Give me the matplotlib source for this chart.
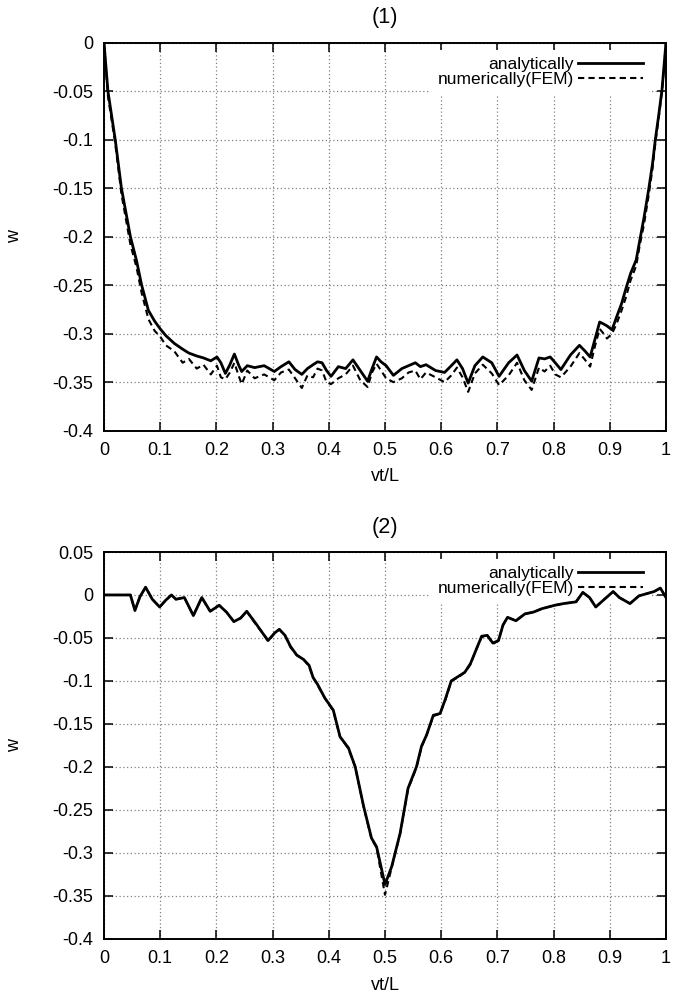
"""Beam deflection under a moving load: analytical vs FEM."""

import matplotlib
matplotlib.use("Agg")
import matplotlib.pyplot as plt

plt.rcParams["font.family"] = ["Liberation Sans", "DejaVu Sans"]
plt.rcParams["font.size"] = 13

# ---- panel (1) ----
x1 = [0.000, 0.007, 0.020, 0.031, 0.047, 0.058, 0.067, 0.079, 0.090, 0.100,
      0.110, 0.125, 0.140, 0.151, 0.165, 0.177, 0.190, 0.201, 0.208, 0.216,
      0.224, 0.232, 0.240, 0.245, 0.255, 0.268, 0.285, 0.303, 0.315, 0.329,
      0.340, 0.352, 0.362, 0.372, 0.380, 0.388, 0.396, 0.404, 0.417, 0.430,
      0.443, 0.456, 0.469, 0.477, 0.485, 0.493, 0.502, 0.515, 0.530, 0.542,
      0.554, 0.563, 0.573, 0.590, 0.606, 0.618, 0.628, 0.638, 0.648, 0.660,
      0.674, 0.690, 0.703, 0.720, 0.735, 0.748, 0.761, 0.774, 0.784, 0.794,
      0.803, 0.813, 0.830, 0.846, 0.856, 0.865, 0.874, 0.882, 0.889, 0.895,
      0.904, 0.912, 0.921, 0.929, 0.937, 0.947, 0.953, 0.961, 0.969, 0.976,
      0.981, 0.987, 0.993, 1.000]
w1_ana = [0.000, -0.050, -0.100, -0.150, -0.200, -0.225, -0.250, -0.276, -0.287, -0.295,
          -0.302, -0.310, -0.316, -0.320, -0.323, -0.325, -0.328, -0.324, -0.330, -0.341,
          -0.332, -0.321, -0.333, -0.339, -0.333, -0.335, -0.333, -0.339, -0.334, -0.329,
          -0.337, -0.342, -0.336, -0.332, -0.329, -0.330, -0.338, -0.344, -0.334, -0.336,
          -0.327, -0.338, -0.349, -0.336, -0.324, -0.329, -0.333, -0.343, -0.336, -0.333,
          -0.330, -0.334, -0.332, -0.338, -0.340, -0.333, -0.327, -0.336, -0.351, -0.333,
          -0.324, -0.330, -0.344, -0.330, -0.322, -0.338, -0.349, -0.325, -0.326, -0.324,
          -0.330, -0.337, -0.322, -0.312, -0.318, -0.324, -0.305, -0.288, -0.290, -0.292,
          -0.296, -0.283, -0.269, -0.253, -0.238, -0.224, -0.205, -0.180, -0.152, -0.125,
          -0.100, -0.075, -0.048, 0.000]
w1_fem = [0.000, -0.055, -0.104, -0.156, -0.208, -0.232, -0.258, -0.285, -0.297, -0.303,
          -0.312, -0.318, -0.330, -0.326, -0.336, -0.332, -0.342, -0.333, -0.345, -0.347,
          -0.340, -0.330, -0.344, -0.352, -0.338, -0.346, -0.342, -0.348, -0.340, -0.337,
          -0.346, -0.356, -0.343, -0.345, -0.336, -0.338, -0.350, -0.352, -0.346, -0.342,
          -0.333, -0.348, -0.355, -0.340, -0.331, -0.338, -0.346, -0.350, -0.346, -0.340,
          -0.338, -0.347, -0.340, -0.345, -0.350, -0.343, -0.335, -0.345, -0.360, -0.341,
          -0.332, -0.341, -0.353, -0.343, -0.330, -0.348, -0.358, -0.335, -0.339, -0.333,
          -0.342, -0.345, -0.334, -0.320, -0.327, -0.334, -0.312, -0.295, -0.300, -0.305,
          -0.300, -0.290, -0.276, -0.262, -0.245, -0.230, -0.210, -0.187, -0.158, -0.130,
          -0.104, -0.078, -0.050, 0.000]

# ---- panel (2) ----
x2 = [0.000, 0.047, 0.055, 0.064, 0.074, 0.086, 0.099, 0.110, 0.120, 0.128,
      0.143, 0.159, 0.174, 0.189, 0.205, 0.218, 0.231, 0.243, 0.254, 0.270,
      0.283, 0.292, 0.304, 0.312, 0.322, 0.332, 0.343, 0.355, 0.365, 0.372,
      0.380, 0.393, 0.408, 0.420, 0.435, 0.447, 0.462, 0.476, 0.485, 0.500,
      0.512, 0.527, 0.541, 0.556, 0.565, 0.574, 0.586, 0.598, 0.607, 0.618,
      0.630, 0.642, 0.652, 0.662, 0.672, 0.682, 0.692, 0.702, 0.710, 0.718,
      0.733, 0.749, 0.764, 0.779, 0.802, 0.818, 0.840, 0.852, 0.864, 0.875,
      0.887, 0.906, 0.917, 0.936, 0.952, 0.963, 0.979, 0.990, 1.000]
w2_ana = [0.000, 0.000, -0.018, -0.002, 0.009, -0.005, -0.014, -0.006, 0.000, -0.005,
          -0.003, -0.024, -0.003, -0.019, -0.012, -0.020, -0.031, -0.027, -0.019, -0.033,
          -0.045, -0.053, -0.044, -0.040, -0.047, -0.060, -0.070, -0.075, -0.082, -0.096,
          -0.104, -0.120, -0.134, -0.165, -0.178, -0.200, -0.246, -0.283, -0.293, -0.337,
          -0.316, -0.277, -0.225, -0.200, -0.176, -0.163, -0.140, -0.138, -0.122, -0.100,
          -0.095, -0.090, -0.080, -0.064, -0.048, -0.047, -0.056, -0.053, -0.035, -0.026,
          -0.030, -0.022, -0.020, -0.016, -0.012, -0.010, -0.008, 0.003, -0.003, -0.014,
          -0.007, 0.004, -0.003, -0.010, -0.001, 0.001, 0.004, 0.008, -0.003]
w2_fem = [0.000, 0.000, -0.018, -0.002, 0.009, -0.005, -0.014, -0.006, 0.000, -0.005,
          -0.003, -0.024, -0.003, -0.019, -0.012, -0.020, -0.031, -0.027, -0.019, -0.034,
          -0.045, -0.054, -0.044, -0.040, -0.047, -0.061, -0.070, -0.075, -0.083, -0.096,
          -0.105, -0.120, -0.135, -0.165, -0.179, -0.200, -0.247, -0.284, -0.294, -0.349,
          -0.317, -0.278, -0.226, -0.201, -0.177, -0.163, -0.141, -0.138, -0.123, -0.100,
          -0.096, -0.090, -0.081, -0.064, -0.049, -0.047, -0.057, -0.053, -0.035, -0.026,
          -0.030, -0.022, -0.020, -0.016, -0.012, -0.010, -0.008, 0.003, -0.003, -0.014,
          -0.007, 0.004, -0.003, -0.010, -0.001, 0.001, 0.004, 0.008, -0.003]

panels = [
    ("(1)", x1, w1_ana, w1_fem, (-0.4, 0.0), [-0.4 + 0.05 * k for k in range(9)]),
    ("(2)", x2, w2_ana, w2_fem, (-0.4, 0.05), [-0.4 + 0.05 * k for k in range(10)]),
]
xticks = [0.1 * k for k in range(11)]


def fmt(v):
    s = f"{v:.2f}".rstrip("0").rstrip(".")
    return "0" if s in ("-0", "0") else s


fig = plt.figure(figsize=(6.74, 10.02), dpi=100)
boxes = [[0.1543, 0.5702, 0.8338, 0.3872], [0.1543, 0.0632, 0.8338, 0.3859]]

for box, (title, x, ana, fem, ylim, yticks) in zip(boxes, panels):
    ax = fig.add_axes(box)
    ax.set_axisbelow(True)
    ax.plot(x, ana, color="black", lw=2.0, label="analytically", zorder=3)
    ax.plot(x, fem, color="black", lw=1.5, ls=(0, (3, 2)), label="numerically(FEM)", zorder=3)
    ax.set_xlim(0, 1)
    ax.set_ylim(*ylim)
    ax.set_xticks(xticks)
    ax.set_xticklabels([fmt(v) for v in xticks])
    ax.set_yticks(yticks)
    ax.set_yticklabels([fmt(v) for v in yticks])
    ax.tick_params(direction="in", length=6.5, width=1.1, top=True, right=True, pad=8)
    ax.grid(True, color="#808080", ls=(0, (1, 2)), lw=0.9)
    for sp in ax.spines.values():
        sp.set_linewidth(1.4)
    ax.set_title(title, pad=14)
    ax.set_xlabel("vt/L", labelpad=7)
    ax.set_ylabel("w")
    ax.yaxis.set_label_coords(-0.144, 0.5)
    # gnuplot-style key: text right-aligned, sample line after it
    top_frac = 1 - 7.0 / (box[3] * 1002)
    leg = ax.legend(loc="upper right", bbox_to_anchor=(0.9715, top_frac),
                    markerfirst=False, frameon=True, borderaxespad=0, fontsize=12.5,
                    handlelength=3.75, handletextpad=0.25, labelspacing=0.0)
    leg.get_frame().set_edgecolor("none")
    leg.get_frame().set_facecolor("white")
    leg.get_frame().set_alpha(1)
    leg.set_zorder(2)
    for t in leg.get_texts():
        t.set_ha("right")

fig.savefig("out.png", dpi=100)
